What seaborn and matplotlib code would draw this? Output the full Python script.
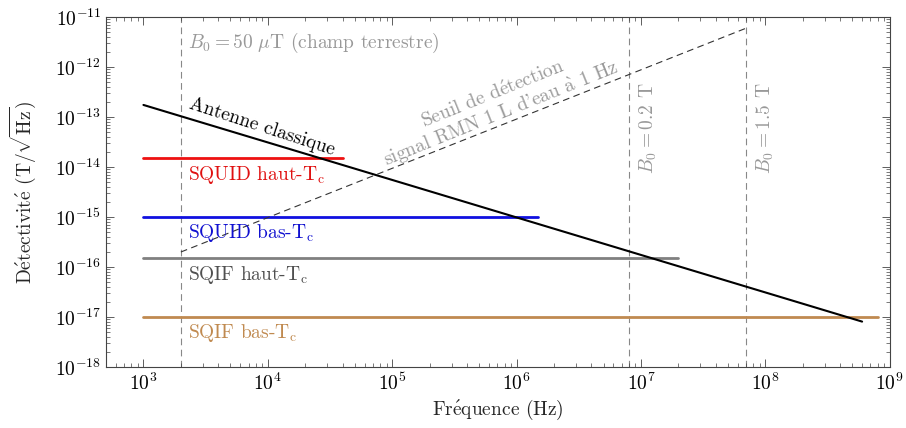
import numpy as np
import pandas as pd
import matplotlib
matplotlib.use("Agg")
import matplotlib.pyplot as plt
import seaborn as sns

# Sensor detectivity levels (flat lines): name, level, start, end
sensor_names = ["SQUID haut-T$_\\mathrm{c}$", "SQUID bas-T$_\\mathrm{c}$",
                "SQIF haut-T$_\\mathrm{c}$", "SQIF bas-T$_\\mathrm{c}$"]
sensor_levels = [1.5e-14, 1e-15, 1.5e-16, 1e-17]
sensor_f_start = [1e3, 1e3, 1e3, 1e3]
sensor_f_end = [4e4, 1.5e6, 2e7, 8e8]
sensor_colors = ["#ee1111", "#1010e0", "#808080", "#c08a50"]
sensor_text_colors = ["#e01010", "#1010d0", "#505050", "#c08a50"]

# Classical antenna (line endpoints)
antenna_f = [1e3, 6e8]
antenna_d = [1.75e-13, 8.1e-18]

# NMR detection threshold (dashed)
seuil_f = [2e3, 7e7]
seuil_d = [2e-16, 6e-12]

# Larmor frequencies for B0 markers
b0_freqs = [2e3, 8e6, 7e7]
b0_labels = ["$B_0 = 50\\ \\mu\\mathrm{T}$ (champ terrestre)", "$B_0 = 0.2$ T", "$B_0 = 1.5$ T"]

sns.set_style("ticks")
plt.rcParams["font.family"] = ["cmr10", "DejaVu Serif"]
plt.rcParams["mathtext.fontset"] = "cm"
plt.rcParams["axes.formatter.use_mathtext"] = True

fig = plt.figure(figsize=(9.06, 4.28), dpi=100)
ax = fig.add_axes([0.117, 0.1425, 0.865, 0.8175])

for name, lvl, f0, f1, c in zip(sensor_names, sensor_levels, sensor_f_start,
                                sensor_f_end, sensor_colors):
    df = pd.DataFrame({"f": [f0, f1], "d": [lvl, lvl]})
    sns.lineplot(data=df, x="f", y="d", color=c, lw=2.0, ax=ax)

df_ant = pd.DataFrame({"f": antenna_f, "d": antenna_d})
sns.lineplot(data=df_ant, x="f", y="d", color="black", lw=1.5, ax=ax)

df_seuil = pd.DataFrame({"f": seuil_f, "d": seuil_d})
sns.lineplot(data=df_seuil, x="f", y="d", color="#333333", lw=0.8, ax=ax,
             linestyle=(0, (6, 4)))

for fb in b0_freqs:
    ax.axvline(fb, color="#888888", lw=0.8, linestyle=(0, (6, 4)), zorder=0)

ax.set_xscale("log")
ax.set_yscale("log")
ax.set_xlim(5e2, 1e9)
ax.set_ylim(1e-18, 1e-11)
ax.set_xticks([10.0**k for k in range(3, 10)])
ax.set_yticks([10.0**k for k in range(-18, -10)])
ax.xaxis.set_minor_locator(matplotlib.ticker.LogLocator(subs=np.arange(2, 10), numticks=20))
ax.yaxis.set_minor_locator(matplotlib.ticker.LogLocator(subs=np.arange(2, 10), numticks=20))
ax.tick_params(which="both", direction="in", top=True, right=True, colors="#444444",
               labelcolor="black", labelsize=14)
ax.tick_params(which="major", length=6, width=0.6)
ax.tick_params(which="minor", length=3, width=0.5)
ax.tick_params(axis="x", pad=4)
for s in ax.spines.values():
    s.set_color("#444444")
    s.set_linewidth(0.8)

ax.set_xlabel("Fr$\\acute{\\mathrm{e}}$quence (Hz)", fontsize=14, labelpad=3)
ax.set_ylabel("D$\\acute{\\mathrm{e}}$tectivit$\\acute{\\mathrm{e}}$ (T/$\\sqrt{\\mathrm{Hz}}$)",
              fontsize=14, labelpad=12)

# Labels
for name, lvl, c in zip(sensor_names, sensor_levels, sensor_text_colors):
    ax.text(2.3e3, lvl * 0.78, name, color=c, fontsize=14, va="top", ha="left")

ax.text(2.3e3, 3e-12, b0_labels[0], color="#999999", fontsize=14, va="center", ha="left")
ax.text(b0_freqs[1] * 1.18, 6e-14, b0_labels[1], color="#999999", fontsize=14,
        rotation=90, va="center", ha="left")
ax.text(b0_freqs[2] * 1.18, 6e-14, b0_labels[2], color="#999999", fontsize=14,
        rotation=90, va="center", ha="left")

ax.text(8.9e3, 6.3e-14, "Antenne classique", color="black", fontsize=14,
        rotation=-18, ha="center", va="center", rotation_mode="anchor")
ax.text(7e5, 1.75e-13,
        "Seuil de d$\\acute{\\mathrm{e}}$tection\nsignal RMN 1 L d'eau $\\grave{\\mathrm{a}}$ 1 Hz",
        color="#999999", fontsize=14, rotation=22, ha="center", va="center",
        rotation_mode="anchor", linespacing=1.0)

plt.savefig("out.png", dpi=100)
